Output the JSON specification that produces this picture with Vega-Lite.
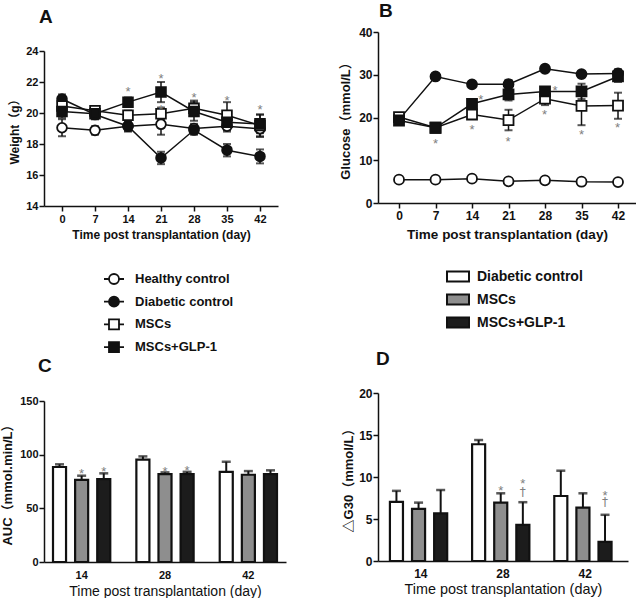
{
  "$schema": "https://vega.github.io/schema/vega-lite/v6.json",
  "padding": {"left": 1, "top": 2, "right": 0, "bottom": 0},
  "background": "white",
  "columns": 2,
  "bounds": "flush",
  "spacing": {"row": 187, "column": 92},
  "resolve": {"scale": {"fill": "independent", "shape": "independent"}, "legend": {"fill": "independent", "shape": "independent"}},
  "config": {
    "view": {"stroke": null},
    "font": "Liberation Sans",
    "axis": {
      "grid": false,
      "labelOverlap": false,
      "domainColor": "#111",
      "tickColor": "#111",
      "domainWidth": 1.5,
      "tickWidth": 1.5,
      "tickSize": 5,
      "labelColor": "#111",
      "titleColor": "#111",
      "labelFont": "Liberation Sans",
      "labelFontWeight": "bold",
      "titleFont": "Liberation Sans, Noto Sans CJK SC",
      "titleFontWeight": "bold"
    },
    "title": {"font": "Liberation Sans", "fontWeight": "bold", "color": "#111", "anchor": "start", "frame": "group"}
  },
  "datasets": {
    "weight": [
      {"series": "Healthy control", "day": 0, "mean": 19.05, "lo": 18.5, "hi": 19.6},
      {"series": "Healthy control", "day": 7, "mean": 18.88, "lo": 18.6, "hi": 19.15},
      {"series": "Healthy control", "day": 14, "mean": 19.15, "lo": 18.85, "hi": 19.45},
      {"series": "Healthy control", "day": 21, "mean": 19.27, "lo": 18.6, "hi": 19.9},
      {"series": "Healthy control", "day": 28, "mean": 19.0, "lo": 18.7, "hi": 19.3},
      {"series": "Healthy control", "day": 35, "mean": 19.15, "lo": 18.8, "hi": 19.5},
      {"series": "Healthy control", "day": 42, "mean": 18.98, "lo": 18.45, "hi": 19.5},
      {"series": "Diabetic control", "day": 0, "mean": 20.9, "lo": 20.6, "hi": 21.2},
      {"series": "Diabetic control", "day": 7, "mean": 19.9, "lo": 19.6, "hi": 20.2},
      {"series": "Diabetic control", "day": 14, "mean": 19.15, "lo": 18.8, "hi": 19.5},
      {"series": "Diabetic control", "day": 21, "mean": 17.1, "lo": 16.7, "hi": 17.5},
      {"series": "Diabetic control", "day": 28, "mean": 18.9, "lo": 18.6, "hi": 19.2},
      {"series": "Diabetic control", "day": 35, "mean": 17.6, "lo": 17.2, "hi": 18.0},
      {"series": "Diabetic control", "day": 42, "mean": 17.2, "lo": 16.75, "hi": 17.65},
      {"series": "MSCs", "day": 0, "mean": 20.45, "lo": 20.1, "hi": 20.8},
      {"series": "MSCs", "day": 7, "mean": 20.15, "lo": 19.85, "hi": 20.45},
      {"series": "MSCs", "day": 14, "mean": 19.85, "lo": 19.55, "hi": 20.15},
      {"series": "MSCs", "day": 21, "mean": 19.95, "lo": 19.55, "hi": 20.35},
      {"series": "MSCs", "day": 28, "mean": 20.3, "lo": 19.8, "hi": 20.8},
      {"series": "MSCs", "day": 35, "mean": 19.85, "lo": 19.0, "hi": 20.7},
      {"series": "MSCs", "day": 42, "mean": 19.2, "lo": 18.5, "hi": 19.9},
      {"series": "MSCs+GLP-1", "day": 0, "mean": 20.1, "lo": 19.7, "hi": 20.5},
      {"series": "MSCs+GLP-1", "day": 7, "mean": 19.95, "lo": 19.6, "hi": 20.3},
      {"series": "MSCs+GLP-1", "day": 14, "mean": 20.7, "lo": 20.4, "hi": 21.0},
      {"series": "MSCs+GLP-1", "day": 21, "mean": 21.35, "lo": 20.7, "hi": 22.0},
      {"series": "MSCs+GLP-1", "day": 28, "mean": 20.1, "lo": 19.5, "hi": 20.7},
      {"series": "MSCs+GLP-1", "day": 35, "mean": 19.4, "lo": 18.9, "hi": 19.9},
      {"series": "MSCs+GLP-1", "day": 42, "mean": 19.3, "lo": 18.7, "hi": 19.9}
    ],
    "weightStars": [
      {"day": 14, "y": 21.55, "t": "*"},
      {"day": 21, "y": 22.42, "t": "*"},
      {"day": 21, "y": 20.43, "t": "*"},
      {"day": 28, "y": 21.19, "t": "*"},
      {"day": 35, "y": 21.01, "t": "*"},
      {"day": 42, "y": 20.43, "t": "*"}
    ],
    "glucose": [
      {"series": "Healthy control", "day": 0, "mean": 5.45, "lo": 5.2, "hi": 5.7},
      {"series": "Healthy control", "day": 7, "mean": 5.45, "lo": 5.2, "hi": 5.7},
      {"series": "Healthy control", "day": 14, "mean": 5.7, "lo": 5.45, "hi": 5.95},
      {"series": "Healthy control", "day": 21, "mean": 5.06, "lo": 4.8, "hi": 5.3},
      {"series": "Healthy control", "day": 28, "mean": 5.3, "lo": 5.05, "hi": 5.55},
      {"series": "Healthy control", "day": 35, "mean": 4.98, "lo": 4.75, "hi": 5.2},
      {"series": "Healthy control", "day": 42, "mean": 4.9, "lo": 4.65, "hi": 5.15},
      {"series": "Diabetic control", "day": 0, "mean": 19.5, "lo": 19.0, "hi": 20.0},
      {"series": "Diabetic control", "day": 7, "mean": 29.6, "lo": 29.1, "hi": 30.1},
      {"series": "Diabetic control", "day": 14, "mean": 27.75, "lo": 27.2, "hi": 28.3},
      {"series": "Diabetic control", "day": 21, "mean": 27.8, "lo": 26.8, "hi": 28.8},
      {"series": "Diabetic control", "day": 28, "mean": 31.4, "lo": 30.9, "hi": 31.9},
      {"series": "Diabetic control", "day": 35, "mean": 30.15, "lo": 29.6, "hi": 30.7},
      {"series": "Diabetic control", "day": 42, "mean": 30.3, "lo": 29.3, "hi": 31.3},
      {"series": "MSCs", "day": 0, "mean": 20.1, "lo": 19.6, "hi": 20.6},
      {"series": "MSCs", "day": 7, "mean": 17.6, "lo": 17.1, "hi": 18.1},
      {"series": "MSCs", "day": 14, "mean": 20.7, "lo": 19.7, "hi": 21.7},
      {"series": "MSCs", "day": 21, "mean": 19.4, "lo": 17.0, "hi": 21.8},
      {"series": "MSCs", "day": 28, "mean": 24.4, "lo": 22.9, "hi": 25.9},
      {"series": "MSCs", "day": 35, "mean": 22.7, "lo": 18.2, "hi": 27.0},
      {"series": "MSCs", "day": 42, "mean": 22.8, "lo": 19.7, "hi": 25.8},
      {"series": "MSCs+GLP-1", "day": 0, "mean": 19.3, "lo": 18.8, "hi": 19.8},
      {"series": "MSCs+GLP-1", "day": 7, "mean": 17.6, "lo": 17.1, "hi": 18.1},
      {"series": "MSCs+GLP-1", "day": 14, "mean": 23.2, "lo": 22.5, "hi": 23.9},
      {"series": "MSCs+GLP-1", "day": 21, "mean": 25.4, "lo": 24.0, "hi": 26.8},
      {"series": "MSCs+GLP-1", "day": 28, "mean": 26.1, "lo": 25.1, "hi": 27.1},
      {"series": "MSCs+GLP-1", "day": 35, "mean": 26.1, "lo": 24.3, "hi": 27.9},
      {"series": "MSCs+GLP-1", "day": 42, "mean": 29.6, "lo": 28.3, "hi": 30.9}
    ],
    "glucoseStars": [
      {"day": 7, "y": 14.65, "t": "*"},
      {"day": 15.7, "y": 25.0, "t": "*"},
      {"day": 14, "y": 17.9, "t": "*"},
      {"day": 20.9, "y": 15.2, "t": "*"},
      {"day": 29.9, "y": 27.1, "t": "*"},
      {"day": 27.9, "y": 21.5, "t": "*"},
      {"day": 35, "y": 16.8, "t": "*"},
      {"day": 41.9, "y": 18.3, "t": "*"}
    ],
    "auc": [
      {"day": "14", "series": "Diabetic control", "value": 88.5, "hi": 91.0},
      {"day": "14", "series": "MSCs", "value": 76.6, "hi": 80.4},
      {"day": "14", "series": "MSCs+GLP-1", "value": 77.3, "hi": 82.6},
      {"day": "28", "series": "Diabetic control", "value": 95.3, "hi": 98.4},
      {"day": "28", "series": "MSCs", "value": 81.9, "hi": 83.5},
      {"day": "28", "series": "MSCs+GLP-1", "value": 81.9, "hi": 84.0},
      {"day": "42", "series": "Diabetic control", "value": 84.0, "hi": 93.4},
      {"day": "42", "series": "MSCs", "value": 81.3, "hi": 84.7},
      {"day": "42", "series": "MSCs+GLP-1", "value": 81.9, "hi": 85.4}
    ],
    "aucStars": [
      {"day": "14", "series": "MSCs", "y": 85.1, "t": "*"},
      {"day": "14", "series": "MSCs+GLP-1", "y": 86.7, "t": "*"},
      {"day": "28", "series": "MSCs", "y": 87.3, "t": "*"},
      {"day": "28", "series": "MSCs+GLP-1", "y": 88.2, "t": "*"}
    ],
    "dg30": [
      {"day": "14", "series": "Diabetic control", "value": 7.05, "hi": 8.35},
      {"day": "14", "series": "MSCs", "value": 6.2, "hi": 6.95},
      {"day": "14", "series": "MSCs+GLP-1", "value": 5.66, "hi": 8.45},
      {"day": "28", "series": "Diabetic control", "value": 13.9, "hi": 14.4},
      {"day": "28", "series": "MSCs", "value": 6.94, "hi": 8.06},
      {"day": "28", "series": "MSCs+GLP-1", "value": 4.3, "hi": 7.0},
      {"day": "42", "series": "Diabetic control", "value": 7.74, "hi": 10.75},
      {"day": "42", "series": "MSCs", "value": 6.35, "hi": 8.06},
      {"day": "42", "series": "MSCs+GLP-1", "value": 2.27, "hi": 5.5}
    ],
    "dgStars": [
      {"day": "28", "series": "MSCs", "y": 8.8, "t": "*"},
      {"day": "28", "series": "MSCs+GLP-1", "y": 9.56, "t": "*"},
      {"day": "42", "series": "MSCs+GLP-1", "y": 8.1, "t": "*"}
    ],
    "dgDaggers": [
      {"day": "28", "series": "MSCs+GLP-1", "y": 8.2, "t": "†"},
      {"day": "42", "series": "MSCs+GLP-1", "y": 7.0, "t": "†"}
    ]
  },
  "concat": [
    {
      "width": 234,
      "height": 174,
      "title": {"text": "A", "fontSize": 19, "dx": -5, "offset": 5.5},
      "data": {"name": "weight"},
      "layer": [
        {
          "mark": {"type": "line", "color": "#111", "strokeWidth": 1.5},
          "encoding": {
            "x": {"field": "day", "type": "quantitative", "scale": {"domain": [-3.82, 45.82], "nice": false, "zero": false},
              "axis": {"values": [0, 7, 14, 21, 28, 35, 42], "format": "d", "tickCount": 20, "labelOverlap": false, "title": "Time post transplantation (day)", "titleFontSize": 12, "labelFontSize": 11, "labelPadding": 2, "titlePadding": 5}},
            "y": {"field": "mean", "type": "quantitative", "scale": {"domain": [14, 24], "range": [174, 19], "nice": false, "zero": false},
              "axis": {"values": [14, 16, 18, 20, 22, 24], "format": "d", "tickCount": 20, "labelOverlap": false, "title": "Weight（g）", "titleFontSize": 12, "labelFontSize": 11, "labelPadding": 1, "titlePadding": 4}},
            "detail": {"field": "series", "type": "nominal"}
          }
        },
        {
          "mark": {"type": "rule", "color": "#111", "strokeWidth": 1.5},
          "encoding": {
            "x": {"field": "day", "type": "quantitative", "title": "Time post transplantation (day)"},
            "y": {"field": "lo", "type": "quantitative", "title": "Weight（g）"},
            "y2": {"field": "hi"}
          }
        },
        {
          "mark": {"type": "tick", "orient": "horizontal", "color": "#111", "size": 8, "thickness": 2},
          "encoding": {
            "x": {"field": "day", "type": "quantitative", "title": "Time post transplantation (day)"},
            "y": {"field": "lo", "type": "quantitative", "title": "Weight（g）"}
          }
        },
        {
          "mark": {"type": "tick", "orient": "horizontal", "color": "#111", "size": 8, "thickness": 2},
          "encoding": {
            "x": {"field": "day", "type": "quantitative", "title": "Time post transplantation (day)"},
            "y": {"field": "hi", "type": "quantitative", "title": "Weight（g）"}
          }
        },
        {
          "mark": {"type": "point", "stroke": "#111", "strokeWidth": 1.8, "size": 95, "opacity": 1},
          "encoding": {
            "x": {"field": "day", "type": "quantitative", "title": "Time post transplantation (day)"},
            "y": {"field": "mean", "type": "quantitative", "title": "Weight（g）"},
            "shape": {"field": "series", "type": "nominal", "scale": {"domain": ["Healthy control", "Diabetic control", "MSCs", "MSCs+GLP-1"], "range": ["circle", "circle", "square", "square"]}, "legend": null},
            "fill": {"field": "series", "type": "nominal", "scale": {"domain": ["Healthy control", "Diabetic control", "MSCs", "MSCs+GLP-1"], "range": ["white", "#111", "white", "#111"]}, "legend": null}
          }
        },
        {
          "data": {"name": "weightStars"},
          "mark": {"type": "text", "color": "#808080", "fontSize": 13, "baseline": "alphabetic", "dy": 7.5},
          "encoding": {
            "x": {"field": "day", "type": "quantitative", "title": "Time post transplantation (day)"},
            "y": {"field": "y", "type": "quantitative", "title": "Weight（g）"},
            "text": {"field": "t"}
          }
        },
        {
          "mark": {"type": "point", "opacity": 0, "stroke": "#111", "strokeWidth": 1.8},
          "encoding": {
            "x": {"field": "day", "type": "quantitative", "title": "Time post transplantation (day)"},
            "y": {"field": "mean", "type": "quantitative", "title": "Weight（g）"},
            "shape": {"field": "series", "type": "nominal",
              "scale": {"domain": ["Healthy control", "Diabetic control", "MSCs", "MSCs+GLP-1"],
                "range": ["M-1,0H-0.5M0.5,0H1M-0.5,0A0.5,0.5,0,1,1,0.5,0A0.5,0.5,0,1,1,-0.5,0Z", "M-1,0H-0.5M0.5,0H1M-0.5,0A0.5,0.5,0,1,1,0.5,0A0.5,0.5,0,1,1,-0.5,0Z", "M-1,0H-0.5M0.5,0H1M-0.5,-0.5H0.5V0.5H-0.5Z", "M-1,0H-0.5M0.5,0H1M-0.5,-0.5H0.5V0.5H-0.5Z"]},
              "legend": {"orient": "none", "legendX": 59, "legendY": 236, "title": null, "symbolSize": 400, "symbolOpacity": 1, "symbolStrokeColor": "#111", "symbolStrokeWidth": 1.8, "labelFont": "Liberation Sans", "labelFontSize": 13, "labelFontWeight": "bold", "labelColor": "#111", "labelOffset": 10, "rowPadding": 2.7,
                "encode": {"symbols": {"update": {"stroke": {"value": "#111"}, "strokeWidth": {"value": 1.8}}}}}},
            "fill": {"field": "series", "type": "nominal",
              "scale": {"domain": ["Healthy control", "Diabetic control", "MSCs", "MSCs+GLP-1"], "range": ["white", "#111", "white", "#111"]},
              "legend": {"orient": "none", "legendX": 59, "legendY": 236, "title": null, "symbolSize": 400, "symbolOpacity": 1, "symbolStrokeColor": "#111", "symbolStrokeWidth": 1.8, "labelFont": "Liberation Sans", "labelFontSize": 13, "labelFontWeight": "bold", "labelColor": "#111", "labelOffset": 10, "rowPadding": 2.7,
                "encode": {"symbols": {"update": {"stroke": {"value": "#111"}, "strokeWidth": {"value": 1.8}}}}}}
          }
        }
      ],
      "resolve": {"scale": {"shape": "independent", "fill": "independent"}, "legend": {"shape": "independent", "fill": "independent"}}
    },
    {
      "width": 258,
      "height": 171,
      "title": {"text": "B", "fontSize": 19, "dx": 1, "offset": 5},
      "data": {"name": "glucose"},
      "layer": [
        {
          "mark": {"type": "line", "color": "#111", "strokeWidth": 1.5},
          "encoding": {
            "x": {"field": "day", "type": "quantitative", "scale": {"domain": [-4.03, 45.45], "nice": false, "zero": false},
              "axis": {"values": [0, 7, 14, 21, 28, 35, 42], "format": "d", "tickCount": 20, "title": "Time post transplantation (day)", "titleFontSize": 13.5, "labelFontSize": 12, "labelPadding": 2, "titlePadding": 6}},
            "y": {"field": "mean", "type": "quantitative", "scale": {"domain": [0, 40], "nice": false},
              "axis": {"values": [0, 10, 20, 30, 40], "format": "d", "tickCount": 20, "title": "Glucose（mmol/L）", "titleFontSize": 13, "labelFontSize": 12, "labelPadding": 1, "titlePadding": 6}},
            "detail": {"field": "series", "type": "nominal"}
          }
        },
        {
          "mark": {"type": "rule", "color": "#111", "strokeWidth": 1.5},
          "encoding": {
            "x": {"field": "day", "type": "quantitative", "title": "Time post transplantation (day)"},
            "y": {"field": "lo", "type": "quantitative", "title": "Glucose（mmol/L）"},
            "y2": {"field": "hi"}
          }
        },
        {
          "mark": {"type": "tick", "orient": "horizontal", "color": "#111", "size": 8, "thickness": 2},
          "encoding": {
            "x": {"field": "day", "type": "quantitative", "title": "Time post transplantation (day)"},
            "y": {"field": "lo", "type": "quantitative", "title": "Glucose（mmol/L）"}
          }
        },
        {
          "mark": {"type": "tick", "orient": "horizontal", "color": "#111", "size": 8, "thickness": 2},
          "encoding": {
            "x": {"field": "day", "type": "quantitative", "title": "Time post transplantation (day)"},
            "y": {"field": "hi", "type": "quantitative", "title": "Glucose（mmol/L）"}
          }
        },
        {
          "mark": {"type": "point", "stroke": "#111", "strokeWidth": 1.8, "size": 100, "opacity": 1},
          "encoding": {
            "x": {"field": "day", "type": "quantitative", "title": "Time post transplantation (day)"},
            "y": {"field": "mean", "type": "quantitative", "title": "Glucose（mmol/L）"},
            "shape": {"field": "series", "type": "nominal", "scale": {"domain": ["Healthy control", "Diabetic control", "MSCs", "MSCs+GLP-1"], "range": ["circle", "circle", "square", "square"]}, "legend": null},
            "fill": {"field": "series", "type": "nominal", "scale": {"domain": ["Healthy control", "Diabetic control", "MSCs", "MSCs+GLP-1"], "range": ["white", "#111", "white", "#111"]}, "legend": null}
          }
        },
        {
          "data": {"name": "glucoseStars"},
          "mark": {"type": "text", "color": "#808080", "fontSize": 13, "baseline": "alphabetic", "dy": 7.5},
          "encoding": {
            "x": {"field": "day", "type": "quantitative", "title": "Time post transplantation (day)"},
            "y": {"field": "y", "type": "quantitative", "title": "Glucose（mmol/L）"},
            "text": {"field": "t"}
          }
        },
        {
          "data": {"name": "auc"},
          "mark": {"type": "square", "opacity": 0},
          "encoding": {
            "fill": {"field": "series", "type": "nominal", "scale": {"domain": ["Diabetic control", "MSCs", "MSCs+GLP-1"], "range": ["white", "#8e8e8e", "#1c1c1c"]},
              "legend": {"orient": "none", "legendX": 68, "legendY": 232.5, "title": null, "symbolType": "M-1,-0.45H1V0.45H-1Z", "symbolSize": 484, "symbolOpacity": 1, "symbolStrokeColor": "#111", "symbolStrokeWidth": 2, "labelFont": "Liberation Sans", "labelFontSize": 14, "labelFontWeight": "bold", "labelColor": "#111", "labelOffset": 7, "rowPadding": 2,
                "encode": {"symbols": {"update": {"stroke": {"value": "#111"}, "strokeWidth": {"value": 2}}}}}}
          }
        }
      ],
      "resolve": {"scale": {"fill": "independent"}, "legend": {"fill": "independent"}}
    },
    {
      "width": 242,
      "height": 169,
      "title": {"text": "C", "fontSize": 19, "dx": -6, "offset": 17.5},
      "data": {"name": "auc"},
      "encoding": {
        "x": {"field": "day", "type": "nominal", "sort": ["14", "28", "42"], "scale": {"paddingInner": 0.313, "paddingOuter": 0.108},
          "axis": {"labelAngle": 0, "ticks": false, "title": "Time post transplantation (day)", "titleFontWeight": "normal", "titleFontSize": 14, "labelFontSize": 11, "labelPadding": 7, "titlePadding": 4}},
        "xOffset": {"field": "series", "type": "nominal", "scale": {"domain": ["Diabetic control", "MSCs", "MSCs+GLP-1"], "paddingInner": 0.41, "paddingOuter": 0}}
      },
      "layer": [
        {
          "mark": {"type": "bar", "stroke": "#111", "strokeWidth": 2.2},
          "encoding": {
            "y": {"field": "value", "type": "quantitative", "scale": {"domain": [0, 150], "range": [169, 8], "nice": false},
              "axis": {"values": [0, 50, 100, 150], "format": "d", "tickCount": 20, "title": "AUC（mmol.min/L）", "titleFontSize": 13, "labelFontSize": 11, "labelPadding": 1, "titlePadding": 5}},
            "fill": {"field": "series", "type": "nominal", "scale": {"domain": ["Diabetic control", "MSCs", "MSCs+GLP-1"], "range": ["white", "#8e8e8e", "#1c1c1c"]}, "legend": null}
          }
        },
        {
          "mark": {"type": "rule", "color": "#111", "strokeWidth": 2},
          "encoding": {
            "y": {"field": "value", "type": "quantitative", "title": "AUC（mmol.min/L）"},
            "y2": {"field": "hi"}
          }
        },
        {
          "mark": {"type": "tick", "color": "#111", "size": 9, "thickness": 2.5},
          "encoding": {
            "y": {"field": "hi", "type": "quantitative", "title": "AUC（mmol.min/L）"}
          }
        },
        {
          "data": {"name": "aucStars"},
          "mark": {"type": "text", "color": "#808080", "fontSize": 13, "baseline": "alphabetic", "dy": 7.5},
          "encoding": {
            "y": {"field": "y", "type": "quantitative", "title": "AUC（mmol.min/L）"},
            "text": {"field": "t"}
          }
        }
      ]
    },
    {
      "width": 250,
      "height": 168,
      "title": {"text": "D", "fontSize": 19, "dx": -2, "offset": 18.5},
      "data": {"name": "dg30"},
      "encoding": {
        "x": {"field": "day", "type": "nominal", "sort": ["14", "28", "42"], "scale": {"paddingInner": 0.248, "paddingOuter": 0.145},
          "axis": {"labelAngle": 0, "ticks": false, "title": "Time post transplantation (day)", "titleFontWeight": "normal", "titleFontSize": 14.4, "labelFontSize": 12, "labelPadding": 7, "titlePadding": 3}},
        "xOffset": {"field": "series", "type": "nominal", "scale": {"domain": ["Diabetic control", "MSCs", "MSCs+GLP-1"], "paddingInner": 0, "paddingOuter": 0}}
      },
      "layer": [
        {
          "mark": {"type": "bar", "stroke": "#111", "strokeWidth": 2.2},
          "encoding": {
            "y": {"field": "value", "type": "quantitative", "scale": {"domain": [0, 20], "nice": false},
              "axis": {"values": [0, 5, 10, 15, 20], "format": "d", "tickCount": 20, "title": "△G30（mmol/L）", "titleFontSize": 13, "labelFontSize": 12, "labelPadding": 1, "titlePadding": 3}},
            "fill": {"field": "series", "type": "nominal", "scale": {"domain": ["Diabetic control", "MSCs", "MSCs+GLP-1"], "range": ["white", "#8e8e8e", "#1c1c1c"]}, "legend": null}
          }
        },
        {
          "mark": {"type": "rule", "color": "#111", "strokeWidth": 2},
          "encoding": {
            "y": {"field": "value", "type": "quantitative", "title": "△G30（mmol/L）"},
            "y2": {"field": "hi"}
          }
        },
        {
          "mark": {"type": "tick", "color": "#111", "size": 9, "thickness": 2.5},
          "encoding": {
            "y": {"field": "hi", "type": "quantitative", "title": "△G30（mmol/L）"}
          }
        },
        {
          "data": {"name": "dgStars"},
          "mark": {"type": "text", "color": "#808080", "fontSize": 13, "baseline": "alphabetic", "dy": 7.5},
          "encoding": {
            "y": {"field": "y", "type": "quantitative", "title": "△G30（mmol/L）"},
            "text": {"field": "t"}
          }
        },
        {
          "data": {"name": "dgDaggers"},
          "mark": {"type": "text", "color": "#808080", "font": "DejaVu Sans", "fontSize": 12, "baseline": "alphabetic", "dy": 3.6},
          "encoding": {
            "y": {"field": "y", "type": "quantitative", "title": "△G30（mmol/L）"},
            "text": {"field": "t"}
          }
        }
      ]
    }
  ]
}
